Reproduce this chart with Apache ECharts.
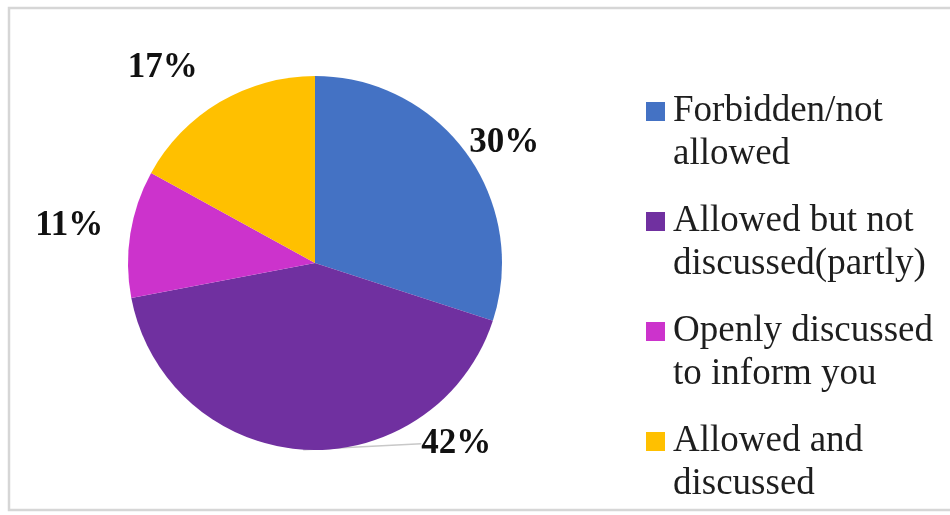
<!DOCTYPE html>
<html>
<head>
<meta charset="utf-8">
<script src="https://cdn.jsdelivr.net/npm/echarts@6/dist/echarts.min.js"></script>
<style>
  html, body { margin: 0; padding: 0; background: #ffffff; }
  #chart { width: 950px; height: 515px; }
</style>
</head>
<body>
<div id="chart"></div>
<script>
// Survey answers, in pie order (clockwise from 12 o'clock)
const categories = [
  'Forbidden/not allowed',
  'Allowed but not discussed(partly)',
  'Openly discussed to inform you',
  'Allowed and discussed'
];
const shares = [30, 42, 11, 17];
const colors = ['#4472C4', '#7030A0', '#CC33CC', '#FFC000'];

// Per-slice nudges for the percentage labels (pixels)
const labelShift = [[-2, -10], [193, -6], [-22, -8], [-17, -34]];

const serif = "'Liberation Serif', 'Times New Roman', serif";

// Legend icon: a 19px square sitting at the height of the first text line
const legendIcon = 'path://M0,0L19,0M0,12h19v19h-19zM0,86L19,86';

const chart = echarts.init(document.getElementById('chart'));

chart.setOption({
  backgroundColor: '#ffffff',
  animation: false,
  graphic: [{
    type: 'rect',
    shape: { x: 9, y: 8, width: 980, height: 502 },
    style: { fill: 'none', stroke: '#d6d6d6', lineWidth: 2.5 },
    silent: true
  }],
  legend: {
    orient: 'vertical',
    left: 641,
    top: 85,
    itemWidth: 19,
    itemHeight: 86,
    itemGap: 24,
    icon: legendIcon,
    data: categories,
    textStyle: {
      fontFamily: serif,
      fontSize: 37,
      lineHeight: 43,
      color: '#1e1e1e',
      width: 272,
      overflow: 'break',
      padding: [0, 0, 0, 3]
    }
  },
  series: [{
    type: 'pie',
    center: [315, 263],
    radius: 187,
    startAngle: 90,
    clockwise: true,
    data: categories.map((name, i) => ({
      name: name,
      value: shares[i],
      itemStyle: { color: colors[i] },
      labelLine: { show: i === 1 }
    })),
    label: {
      show: true,
      position: 'outside',
      distance: 0,
      formatter: '{c}%',
      fontFamily: serif,
      fontWeight: 'bold',
      fontSize: 35,
      color: '#111111'
    },
    labelLine: {
      length: 0,
      length2: 0,
      lineStyle: { color: '#c8c8c8', width: 1.5 }
    },
    labelLayout: function (p) {
      const s = labelShift[p.dataIndex];
      const r = p.labelRect;
      return {
        x: r.x + s[0],
        y: r.y + r.height / 2 + s[1],
        align: 'left',
        verticalAlign: 'middle'
      };
    },
    emphasis: { disabled: true }
  }]
});
</script>
</body>
</html>
